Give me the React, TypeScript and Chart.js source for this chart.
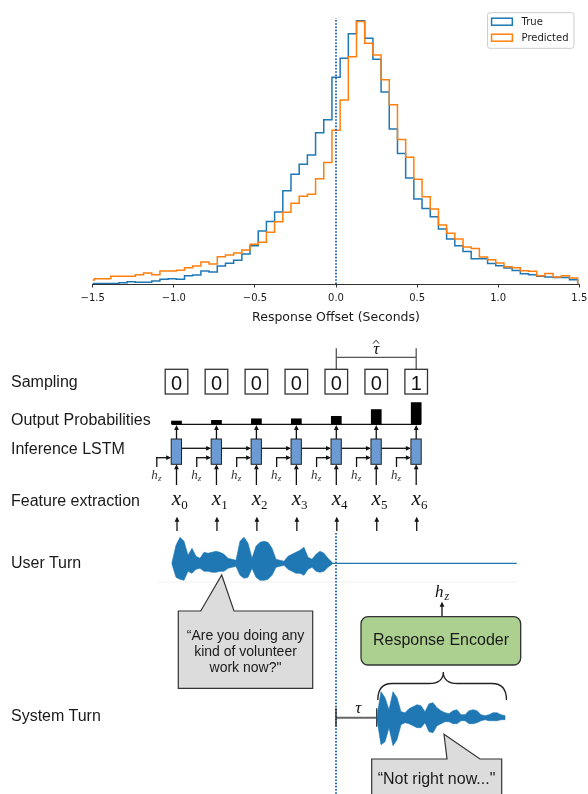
import React, { useEffect, useRef } from 'react';
import { Chart, registerables } from 'chart.js';

Chart.register(...registerables);

// ---------------- Histogram data ----------------
const binStart = -1.54;
const binWidth = 0.0505;
const seriesLabels = ['True', 'Predicted'];
const seriesColors = ['#1f77b4', '#ff7f0e'];
const trueCounts = [
  0.4, 0.4, 0.4, 0.4, 1.3, 2.3, 1.7, 1.7, 3.0, 4.7,
  5.3, 4.7, 8.3, 9.0, 13.0, 12.0, 18.0, 20.7, 23.7, 30.0,
  38.3, 53.0, 62.5, 72.0, 93.2, 109.7, 119.7, 129.0, 151.2, 164.3,
  206.7, 225.7, 250.3, 263.3, 245.7, 224.7, 192.0, 155.0, 130.5, 106.0,
  85.0, 75.5, 67.3, 55.0, 45.0, 38.3, 32.5, 25.3, 25.2, 20.5,
  18.2, 16.0, 13.5, 10.2, 9.2, 7.7, 7.1, 6.4, 6.6, 4.3,
];
const predictedCounts = [
  4.0, 5.3, 5.3, 7.7, 7.7, 7.7, 9.3, 11.0, 9.3, 13.0,
  13.0, 13.7, 16.3, 18.0, 22.0, 20.0, 27.3, 29.0, 31.0, 34.0,
  39.7, 41.7, 51.7, 62.3, 71.7, 80.8, 87.8, 89.8, 105.2, 121.5,
  153.7, 184.0, 227.3, 262.5, 240.7, 229.0, 204.3, 179.2, 144.4, 126.8,
  104.8, 87.3, 75.0, 59.0, 50.7, 45.0, 37.0, 35.5, 27.0, 24.2,
  21.0, 17.3, 16.2, 13.2, 12.8, 8.3, 10.5, 7.0, 8.3, 6.0,
];
const xTickValues = [-1.5, -1.0, -0.5, 0, 0.5, 1.0, 1.5];
const xAxisTitle = 'Response Offset (Seconds)';
const zeroLineTop = 265.7;
const yMax = 276.5;

// ---------------- Diagram data ----------------
const rowLabels = ['Sampling', 'Output Probabilities', 'Inference LSTM', 'Feature extraction', 'User Turn', 'System Turn'];
const samplingValues = [0, 0, 0, 0, 0, 0, 1];
const outputProbabilities = [0.08, 0.095, 0.13, 0.13, 0.185, 0.335, 0.49];
const featureIndices = ['0', '1', '2', '3', '4', '5', '6'];
const userWaveUp = [1, 18, 26, 22, 8, 15, 7, 5, 11, 10, 11, 12, 11, 9, 5, 4, 3, 22, 26, 20, 5, 17, 21, 22, 21, 15, 4, 3, 2, 7, 9, 11, 13, 16, 6, 4, 9, 12, 10, 5, 1];
const userWaveDown = [1, 14, 16, 17, 8, 10, 6, 5, 8, 8, 9, 9, 8, 8, 5, 4, 3, 12, 15, 14, 5, 14, 17, 17, 16, 12, 4, 3, 2, 6, 8, 10, 10, 12, 6, 4, 8, 9, 8, 4, 1];
const systemWaveUp = [2, 26, 20, 8, 26, 20, 6, 5, 9, 11, 13, 12, 6, 14, 15, 10, 7, 5, 4, 7, 8, 3, 3, 7, 8, 7, 3, 2, 3, 5, 5, 3, 2];
const systemWaveDown = [2, 27, 24, 10, 28, 22, 7, 5, 6, 8, 10, 10, 5, 14, 15, 8, 6, 4, 4, 6, 6, 3, 3, 6, 6, 5, 3, 2, 3, 3, 3, 2, 2];
const userQuote = ['\u201CAre you doing any', 'kind of volunteer', 'work now?"'];
const systemQuote = '\u201CNot right now..."';
const encoderLabel = 'Response Encoder';

const fmtTick = (v: number) => (v < 0 ? '\u2212' : '') + Math.abs(v).toFixed(1);

function stepPoints(counts: number[]) {
  const pts: { x: number; y: number }[] = [{ x: binStart, y: 0 }];
  counts.forEach((c, i) => pts.push({ x: binStart + i * binWidth, y: c }));
  pts.push({ x: binStart + counts.length * binWidth, y: 0 });
  return pts;
}

const mplLegend = {
  id: 'mplLegend',
  afterDraw(chart: any) {
    const { ctx, chartArea } = chart;
    const items = chart.data.datasets.filter((d: any) => d.label);
    ctx.save();
    ctx.font = '10px "DejaVu Sans"';
    const maxW = Math.max(...items.map((d: any) => ctx.measureText(d.label).width));
    const w = 34 + maxW + 5.5;
    const h = 35.6;
    const right = chartArea.right - 5.3;
    const left = right - w;
    const top = chartArea.top + 5.2;
    ctx.beginPath();
    ctx.roundRect(left, top, w, h, 2.5);
    ctx.fillStyle = 'rgba(255,255,255,0.8)';
    ctx.fill();
    ctx.lineWidth = 1;
    ctx.strokeStyle = '#cccccc';
    ctx.stroke();
    items.forEach((d: any, i: number) => {
      const cy = top + 9 + i * 16;
      ctx.lineWidth = 1.5;
      ctx.strokeStyle = d.borderColor;
      ctx.strokeRect(left + 4, cy - 3.5, 20.8, 7);
      ctx.fillStyle = '#1a1a1a';
      ctx.textBaseline = 'middle';
      ctx.textAlign = 'left';
      ctx.fillText(d.label, left + 34, cy + 0.3);
    });
    ctx.restore();
  },
};

function Histogram() {
  const ref = useRef<HTMLCanvasElement | null>(null);
  useEffect(() => {
    if (!ref.current) return;
    const chart = new Chart(ref.current, {
      type: 'line',
      data: {
        datasets: [
          {
            label: seriesLabels[0],
            data: stepPoints(trueCounts),
            borderColor: seriesColors[0],
            borderWidth: 1.5,
            pointRadius: 0,
            stepped: true,
            fill: false,
            order: 2,
          },
          {
            label: seriesLabels[1],
            data: stepPoints(predictedCounts),
            borderColor: seriesColors[1],
            borderWidth: 1.5,
            pointRadius: 0,
            stepped: true,
            fill: false,
            order: 1,
          },
          {
            label: '',
            data: [{ x: 0, y: 0 }, { x: 0, y: zeroLineTop }],
            borderColor: '#2f6db5',
            borderWidth: 2,
            borderDash: [1.6, 1.6],
            pointRadius: 0,
            fill: false,
            order: 0,
          },
        ],
      },
      options: {
        animation: false,
        responsive: false,
        maintainAspectRatio: false,
        devicePixelRatio: 1,
        layout: { padding: { left: 92.7, right: 8.7, top: 7.5, bottom: 0 } },
        plugins: { legend: { display: false }, tooltip: { enabled: false } },
        events: [],
        scales: {
          x: {
            type: 'linear',
            min: -1.5,
            max: 1.5,
            afterBuildTicks: (s: any) => {
              s.ticks = xTickValues.map((v) => ({ value: v }));
            },
            afterFit: (s: any) => {
              s.height = 46;
              s.paddingLeft = 0;
              s.paddingRight = 0;
            },
            ticks: {
              callback: (v: any) => fmtTick(Number(v)),
              font: { family: 'DejaVu Sans', size: 10 },
              color: '#1a1a1a',
              padding: 5.3,
              maxRotation: 0,
              autoSkip: false,
            },
            grid: { drawOnChartArea: false, drawTicks: true, tickLength: 3.5, color: '#1a1a1a', lineWidth: 0.9 },
            border: { display: true, color: '#1a1a1a', width: 0.9 },
            title: {
              display: true,
              text: xAxisTitle,
              font: { family: 'DejaVu Sans', size: 12.5 },
              color: '#1a1a1a',
              padding: { top: 0, bottom: 5.1 },
            },
          },
          y: { display: false, min: 0, max: yMax },
        },
      } as any,
      plugins: [mplLegend],
    });
    return () => chart.destroy();
  }, []);
  return <canvas ref={ref} width={588} height={330} style={{ position: 'absolute', left: 0, top: 0, width: 588, height: 330 }} />;
}

const FONT = "'Liberation Sans', Arial, sans-serif";
const MATH = "'Liberation Serif', 'DejaVu Serif', serif";
const INK = '#111';
const colX = (i: number) => 336.3 + (i - 4) * 39.95;

function Arrow({ x1, y1, x2, y2, w = 1.3, color = INK }: { x1: number; y1: number; x2: number; y2: number; w?: number; color?: string }) {
  const dx = x2 - x1;
  const dy = y2 - y1;
  const len = Math.hypot(dx, dy);
  const ux = dx / len;
  const uy = dy / len;
  const hl = 5;
  const hw = 2.4;
  const bx = x2 - ux * hl;
  const by = y2 - uy * hl;
  return (
    <g>
      <line x1={x1} y1={y1} x2={bx + ux * 0.5} y2={by + uy * 0.5} stroke={color} strokeWidth={w} />
      <polygon points={`${x2},${y2} ${bx - uy * hw},${by + ux * hw} ${bx + uy * hw},${by - ux * hw}`} fill={color} />
    </g>
  );
}

function wavePath(x0: number, step: number, cy: number, up: number[], down: number[]) {
  const top = up.map((a, i) => `${x0 + i * step},${cy - a}`);
  const bot = down.map((b, i) => `${x0 + i * step},${cy + b}`).reverse();
  return 'M' + top.join(' L') + ' L' + bot.join(' L') + ' Z';
}

function Diagram() {
  const labelBaselines = [386.7, 425, 454, 506, 567.7, 720.7];
  const n = samplingValues.length;
  const cols = samplingValues.map((_, i) => colX(i));
  const probScale = 45;
  return (
    <svg width={588} height={794} style={{ position: 'absolute', left: 0, top: 0 }} xmlns="http://www.w3.org/2000/svg">
      {rowLabels.map((t, i) => (
        <text key={t} x={11} y={labelBaselines[i]} fontFamily={FONT} fontSize={16} fill="#1a1a1a">
          {t}
        </text>
      ))}

      {/* tau-hat bracket */}
      <g stroke="#555" strokeWidth={1.3} fill="none">
        <line x1={cols[4]} y1={348.3} x2={cols[4]} y2={369.3} />
        <line x1={cols[6]} y1={348.3} x2={cols[6]} y2={369.3} />
        <line x1={cols[4]} y1={357.3} x2={cols[6]} y2={357.3} />
      </g>
      <text x={cols[5]} y={353.5} fontFamily={MATH} fontStyle="italic" fontSize={17} textAnchor="middle" fill={INK}>
        τ
      </text>
      <path d={`M${cols[5] - 3.2},${343.6} L${cols[5] - 0.2},${340.2} L${cols[5] + 2.8},${343.6}`} stroke={INK} strokeWidth={0.9} fill="none" />

      {/* sampling boxes */}
      {samplingValues.map((v, i) => (
        <g key={'s' + i}>
          <rect x={cols[i] - 11.3} y={369.3} width={22.6} height={24.7} fill="#fff" stroke="#333" strokeWidth={1.3} />
          <text x={cols[i]} y={390} fontFamily={FONT} fontSize={20} textAnchor="middle" fill={INK}>
            {v}
          </text>
        </g>
      ))}

      {/* output probabilities */}
      <line x1={cols[0] - 4.8} y1={424.3} x2={cols[n - 1] + 4.8} y2={424.3} stroke={INK} strokeWidth={1.3} />
      {outputProbabilities.map((p, i) => (
        <rect key={'p' + i} x={cols[i] - 5.35} y={424.3 - p * probScale} width={10.7} height={p * probScale} fill="#000" />
      ))}

      {/* LSTM */}
      {cols.map((cx, i) => (
        <g key={'l' + i}>
          <Arrow x1={cx} y1={439} x2={cx} y2={424.9} />
          <Arrow x1={cx} y1={485} x2={cx} y2={464.3} />
          <line x1={cx - 19.7} y1={467} x2={cx - 19.7} y2={457.1} stroke={INK} strokeWidth={1.3} />
          <Arrow x1={cx - 20.35} y1={457.7} x2={cx - 5.3} y2={457.7} />
          {i < n - 1 && <Arrow x1={cx + 5} y1={448.3} x2={cols[i + 1] - 5.3} y2={448.3} />}
          <rect x={cx - 5.3} y={439} width={10.3} height={25.3} fill="#6b9bd2" stroke="#222" strokeWidth={1} />
          <text x={cx - 25.3} y={479} fontFamily={MATH} fontStyle="italic" fontSize={13} fill="#333">
            h
          </text>
          <text x={cx - 18.6} y={481.3} fontFamily={MATH} fontStyle="italic" fontSize={9} fill="#333">
            z
          </text>
          <text x={cx} y={505} fontFamily={MATH} fontStyle="italic" fontSize={21} textAnchor="middle" fill={INK}>
            x
          </text>
          <text x={cx + 4.7} y={508.5} fontFamily={MATH} fontSize={13} fill={INK}>
            {featureIndices[i]}
          </text>
          <Arrow x1={cx + 0.5} y1={531} x2={cx + 0.5} y2={516.7} />
        </g>
      ))}

      {/* faint separator */}
      <line x1={158} y1={582} x2={517} y2={582} stroke="#f1f1f1" strokeWidth={1} />

      {/* user waveform */}
      <path d={wavePath(172, 4, 563.3, userWaveUp, userWaveDown)} fill="#1f77b4" stroke="#1f77b4" strokeWidth={0.6} />
      <line x1={332} y1={563.3} x2={516.7} y2={563.3} stroke="#1f77b4" strokeWidth={1.3} />

      {/* zero line continuation */}
      <line x1={336} y1={533} x2={336} y2={794} stroke="#2f6db5" strokeWidth={2} strokeDasharray="1.6 1.6" />

      {/* user speech bubble */}
      <path d="M178.3,611 L200.7,611 L221.7,575 L234,611 L312.7,611 L312.7,688.3 L178.3,688.3 Z" fill="#dcdcdc" stroke="#333" strokeWidth={1.2} />
      {userQuote.map((t, i) => (
        <text key={'q' + i} x={245.5} y={639.5 + i * 16} fontFamily={FONT} fontSize={14} textAnchor="middle" fill="#1a1a1a">
          {t}
        </text>
      ))}

      {/* response encoder */}
      <Arrow x1={442} y1={616.7} x2={442} y2={601.7} />
      <text x={435} y={596.7} fontFamily={MATH} fontStyle="italic" fontSize={17} fill={INK}>
        h
      </text>
      <text x={444.5} y={599.5} fontFamily={MATH} fontStyle="italic" fontSize={12} fill={INK}>
        z
      </text>
      <rect x={361} y={616.7} width={159.7} height={48.3} rx={7} ry={7} fill="#acd08f" stroke="#333" strokeWidth={1.3} />
      <text x={441} y={645} fontFamily={FONT} fontSize={16} textAnchor="middle" fill="#1a1a1a">
        {encoderLabel}
      </text>

      {/* brace */}
      <path
        d="M377.8,700 Q377.8,683.5 392,683.5 L429,683.5 Q443.3,683.5 443.3,672 Q443.3,683.5 457.6,683.5 L492,683.5 Q506.5,683.5 506.5,700"
        fill="none"
        stroke="#222"
        strokeWidth={1.3}
      />

      {/* tau */}
      <line x1={336} y1={717.7} x2={376.7} y2={717.7} stroke="#666" strokeWidth={2} />
      <line x1={336} y1={708.3} x2={336} y2={726.7} stroke="#222" strokeWidth={1.3} />
      <line x1={376.7} y1={708.3} x2={376.7} y2={726.7} stroke="#333" strokeWidth={1.3} />
      <text x={358.3} y={713} fontFamily={MATH} fontStyle="italic" fontSize={17} textAnchor="middle" fill={INK}>
        τ
      </text>

      {/* system waveform */}
      <path d={wavePath(377, 4, 717.7, systemWaveUp, systemWaveDown)} fill="#1f77b4" stroke="#1f77b4" strokeWidth={0.6} />

      {/* system speech bubble */}
      <path d="M371.7,759 L447,759 L444,734.3 L480,759 L501.7,759 L501.7,810 L371.7,810 Z" fill="#dcdcdc" stroke="#333" strokeWidth={1.2} />
      <text x={436.5} y={784.3} fontFamily={FONT} fontSize={16} textAnchor="middle" fill="#1a1a1a">
        {systemQuote}
      </text>
    </svg>
  );
}

export default function App() {
  return (
    <div style={{ position: 'absolute', left: 0, top: 0, width: 588, height: 794, background: '#fff', overflow: 'hidden' }}>
      <Histogram />
      <Diagram />
    </div>
  );
}
